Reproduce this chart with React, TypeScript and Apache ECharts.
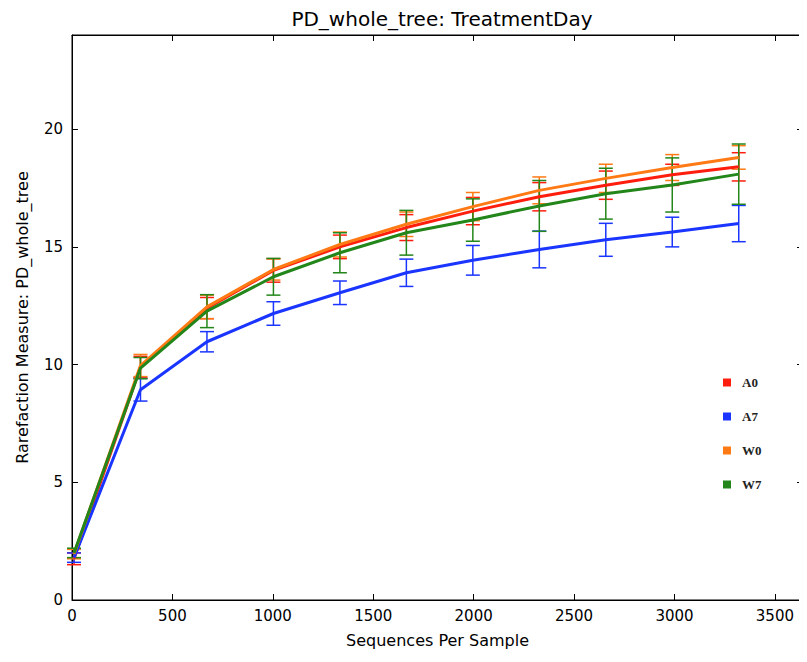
import React, { useEffect, useRef } from "react";
import * as echarts from "echarts";

const xValues = [10, 341, 672, 1003, 1334, 1665, 1996, 2327, 2658, 2989, 3320];
const groupNames = ["A0", "A7", "W0", "W7"];
const a0Mean = [1.75, 9.9, 12.4, 14.0, 15.0, 15.82, 16.52, 17.13, 17.62, 18.06, 18.4];
const a0Err = [0.25, 0.45, 0.45, 0.5, 0.5, 0.55, 0.58, 0.6, 0.6, 0.45, 0.6];
const a7Mean = [1.8, 8.93, 10.97, 12.17, 13.05, 13.9, 14.43, 14.89, 15.3, 15.63, 15.99];
const a7Err = [0.2, 0.48, 0.43, 0.5, 0.5, 0.58, 0.63, 0.78, 0.7, 0.63, 0.77];
const w0Mean = [1.95, 9.96, 12.45, 14.04, 15.1, 15.96, 16.71, 17.4, 17.91, 18.37, 18.8];
const w0Err = [0.2, 0.47, 0.5, 0.45, 0.53, 0.52, 0.6, 0.57, 0.6, 0.55, 0.5];
const w7Mean = [2.0, 9.85, 12.27, 13.73, 14.75, 15.6, 16.14, 16.74, 17.26, 17.63, 18.09];
const w7Err = [0.2, 0.45, 0.7, 0.78, 0.85, 0.95, 0.9, 1.08, 1.08, 1.15, 1.28];
const groupColors = ["#ff1e0e", "#1a35ff", "#ff7a14", "#23861a"];

const means = [a0Mean, a7Mean, w0Mean, w7Mean];
const errs = [a0Err, a7Err, w0Err, w7Err];

export default function App() {
  const ref = useRef<HTMLDivElement>(null);
  useEffect(() => {
    if (!ref.current) return;
    const chart = echarts.init(ref.current, null, { renderer: "svg" });
    const font = "DejaVu Sans";
    const axisBase = {
      axisLine: { show: true, onZero: false, lineStyle: { color: "#000", width: 1 } },
      axisTick: { show: true, inside: true, length: 6, lineStyle: { color: "#000" } },
      splitLine: { show: false },
    };
    const plain = (v: number) => String(v);
    const series: any[] = [];
    groupNames.forEach((name, i) => {
      series.push({
        type: "custom",
        name,
        xAxisIndex: 0,
        yAxisIndex: 0,
        clip: false,
        z: 2,
        data: xValues.map((x, k) => [x, means[i][k], errs[i][k]]),
        renderItem: (params: any, api: any) => {
          const x = api.value(0);
          const y = api.value(1);
          const e = api.value(2);
          const top = api.coord([x, y + e]);
          const bot = api.coord([x, y - e]);
          const style = { stroke: groupColors[i], lineWidth: 1.5 };
          return {
            type: "group",
            children: [
              { type: "line", shape: { x1: top[0], y1: top[1], x2: bot[0], y2: bot[1] }, style },
              { type: "line", shape: { x1: top[0] - 7, y1: top[1], x2: top[0] + 7, y2: top[1] }, style },
              { type: "line", shape: { x1: bot[0] - 7, y1: bot[1], x2: bot[0] + 7, y2: bot[1] }, style },
            ],
          };
        },
      });
    });
    groupNames.forEach((name, i) => {
      series.push({
        type: "line",
        name,
        xAxisIndex: 0,
        yAxisIndex: 0,
        z: 3,
        showSymbol: false,
        symbol: "none",
        color: groupColors[i],
        lineStyle: { width: 3, color: groupColors[i] },
        data: xValues.map((x, k) => [x, means[i][k]]),
      });
    });
    chart.setOption({
      animation: false,
      backgroundColor: "#fff",
      title: {
        text: "PD_whole_tree: TreatmentDay",
        left: 437,
        top: 4,
        textAlign: "center",
        textStyle: { fontFamily: font, fontSize: 20, fontWeight: "normal", color: "#000" },
      },
      legend: {
        orient: "vertical",
        left: 718,
        top: 371,
        icon: "rect",
        itemWidth: 8,
        itemHeight: 8,
        itemGap: 21,
        data: groupNames.map((n, i) => ({ name: n, itemStyle: { color: groupColors[i] } })),
        textStyle: {
          fontFamily: "Liberation Serif",
          fontWeight: "bold",
          fontSize: 13,
          lineHeight: 12,
          color: "#222",
          padding: [0, 0, 0, 6],
        },
      },
      grid: { left: 72, right: 4, top: 35, bottom: 62, show: true, borderColor: "#000", borderWidth: 1, backgroundColor: "transparent" },
      xAxis: [
        {
          ...axisBase,
          type: "value",
          position: "bottom",
          min: 0,
          max: 3640,
          interval: 500,
          name: "Sequences Per Sample",
          nameLocation: "middle",
          nameGap: 32,
          nameTextStyle: { fontFamily: font, fontSize: 16, color: "#000" },
          axisLabel: { fontFamily: font, fontSize: 15, color: "#000", margin: 8, showMaxLabel: false, formatter: plain },
        },
        {
          ...axisBase,
          type: "value",
          position: "top",
          min: 0,
          max: 3640,
          interval: 500,
          axisLabel: { show: false },
        },
      ],
      yAxis: [
        {
          ...axisBase,
          type: "value",
          position: "left",
          min: 0,
          max: 24,
          interval: 5,
          name: "Rarefaction Measure: PD_whole_tree",
          nameLocation: "middle",
          nameGap: 42,
          nameTextStyle: { fontFamily: font, fontSize: 16, color: "#000" },
          axisLabel: { fontFamily: font, fontSize: 15, color: "#000", margin: 9, showMaxLabel: false, formatter: plain },
        },
        {
          ...axisBase,
          type: "value",
          position: "right",
          min: 0,
          max: 24,
          interval: 5,
          axisLabel: { show: false },
        },
      ],
      series,
    });
    return () => chart.dispose();
  }, []);
  return <div ref={ref} style={{ width: 807, height: 662, margin: -8 }} />;
}
